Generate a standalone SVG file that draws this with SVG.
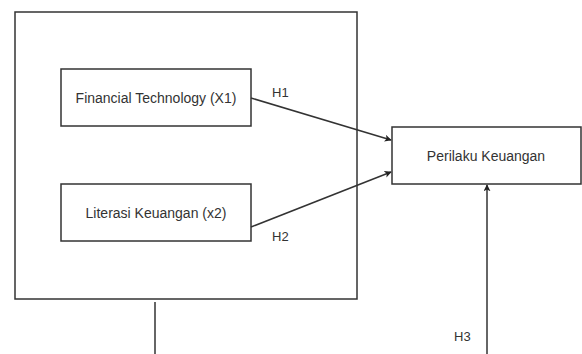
<svg xmlns="http://www.w3.org/2000/svg" width="582" height="354" viewBox="0 0 582 354">
<style>
.box{fill:#fff;stroke:#333;stroke-width:1.5}
.t{font-family:"Liberation Sans",Arial,sans-serif;font-size:14px;fill:#333;text-anchor:middle}
.lbl{font-family:"Liberation Sans",Arial,sans-serif;font-size:13px;fill:#333}
.c{fill:none;stroke:#333;stroke-width:1.5}
</style>
<defs>
<marker id="ah" viewBox="0 0 10 10" refX="9" refY="5" markerWidth="7" markerHeight="7" markerUnits="userSpaceOnUse" orient="auto">
<path d="M0,0 L10,5 L0,10 L2.5,5 Z" fill="#222"/>
</marker>
</defs>
<rect width="582" height="354" fill="#fff"/>
<g id="outer"><rect class="box" x="15" y="12" width="342" height="287"/></g>
<g id="fintech"><rect class="box" x="61" y="69" width="190" height="57"/><text class="t" x="156" y="103">Financial Technology (X1)</text></g>
<g id="literasi"><rect class="box" x="61" y="184" width="190" height="57"/><text class="t" x="156" y="218">Literasi Keuangan (x2)</text></g>
<g id="perilaku"><rect class="box" x="392" y="127" width="189" height="57"/><text class="t" x="486" y="161">Perilaku Keuangan</text></g>
<g id="connectors">
<line class="c" x1="251" y1="98" x2="391" y2="140" marker-end="url(#ah)"/>
<line class="c" x1="251" y1="227" x2="391" y2="172" marker-end="url(#ah)"/>
<line class="c" x1="487" y1="354" x2="487" y2="185" marker-end="url(#ah)"/>
<line class="c" x1="155" y1="302" x2="155" y2="354"/>
<text class="lbl" x="272" y="97">H1</text>
<text class="lbl" x="272" y="241">H2</text>
<text class="lbl" x="454" y="341">H3</text>
</g>
</svg>
